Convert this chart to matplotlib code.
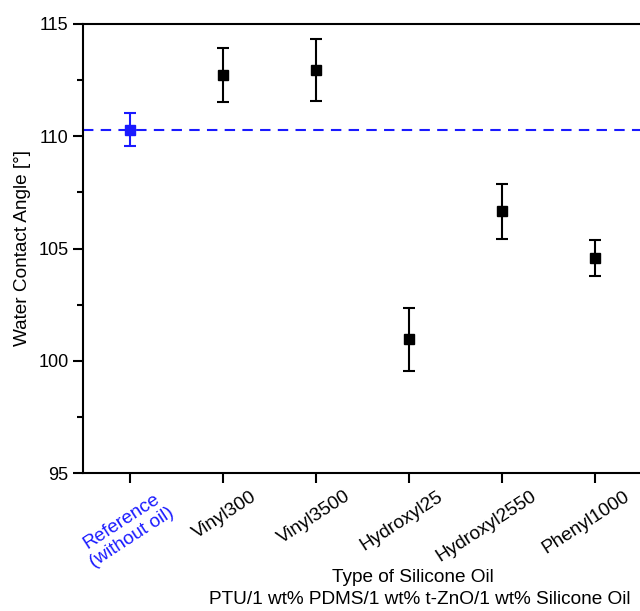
import numpy as np
import matplotlib.pyplot as plt
from matplotlib.transforms import ScaledTranslation

plt.rcParams['font.family'] = ['Liberation Sans', 'DejaVu Sans']

categories = ["Reference\n(without oil)", "Vinyl300", "Vinyl3500",
              "Hydroxyl25", "Hydroxyl2550", "Phenyl1000"]
angle = [110.3, 112.73, 112.96, 100.96, 106.65, 104.58]
angle_err = [0.75, 1.19, 1.37, 1.4, 1.22, 0.8]
ref_level = 110.3

blue = "#1a1aff"
x = np.arange(1, len(categories) + 1)

fig = plt.figure(figsize=(6.4, 6.11), dpi=100)
ax = fig.add_axes([83/640, 1 - 473/611, (642 - 83)/640, (473 - 24)/611])

ax.axhline(ref_level, color=blue, lw=1.5, ls=(0, (5, 3.5)), zorder=1)

for i in range(len(x)):
    c = blue if i == 0 else "black"
    ax.errorbar(x[i], angle[i], yerr=angle_err[i], fmt="s", color=c,
                ms=6.5, elinewidth=1.5, capsize=4.5, capthick=1.5, zorder=3)

ax.set_xlim(0.5, 6.5)
ax.set_ylim(95, 115)
ax.set_yticks([95, 100, 105, 110, 115])
ax.set_yticks(np.arange(97.5, 115, 5), minor=True)
ax.set_xticks(x)
ax.set_xticklabels([])

# rotated category labels, top-right corner a little right of each tick
shift = ScaledTranslation(28/100, -15/100, fig.dpi_scale_trans)
for i, name in enumerate(categories):
    ax.text(x[i], 0, name, transform=ax.get_xaxis_transform() + shift,
            rotation=33, ha="right", va="top", rotation_mode="anchor",
            multialignment="center", fontsize=13.7,
            color=blue if i == 0 else "black")

for s in ax.spines.values():
    s.set_linewidth(1.5)
ax.spines["right"].set_visible(False)
ax.tick_params(which="major", direction="out", length=7, width=1.5)
ax.tick_params(axis="y", labelsize=13)
ax.tick_params(which="minor", direction="out", length=4, width=1.5)

ax.set_ylabel("Water Contact Angle [°]", fontsize=13.7, labelpad=5)
fig.text(413/640, 1 - 578/611, "Type of Silicone Oil", ha="center", va="center", fontsize=13.7)
fig.text(420/640, 1 - 600/611, "PTU/1 wt% PDMS/1 wt% t-ZnO/1 wt% Silicone Oil",
         ha="center", va="center", fontsize=13.7)

fig.savefig("out.png", dpi=100)
